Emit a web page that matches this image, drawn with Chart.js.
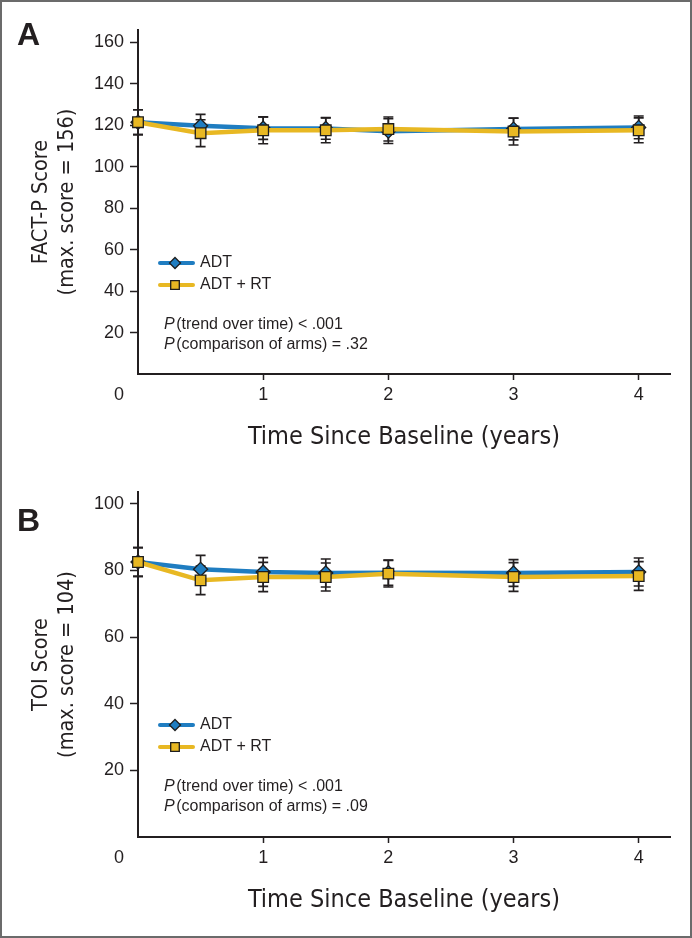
<!DOCTYPE html>
<html><head><meta charset="utf-8">
<script src="https://cdn.jsdelivr.net/npm/chart.js@4.4.1/dist/chart.umd.min.js"></script>
<style>
html,body{margin:0;padding:0;background:#fff;}
#wrap{position:relative;width:692px;height:938px;overflow:hidden;background:#fff;}
canvas{position:absolute;left:0;}
#cA{top:0;} #cB{top:463px;}
.panel{position:absolute;left:17px;font:bold 32px "Liberation Sans",Arial,sans-serif;line-height:32px;color:#231f20;}
#frame{position:absolute;left:0;top:0;width:692px;height:938px;box-sizing:border-box;border:2px solid #6b6b6b;pointer-events:none;}
</style></head><body>
<div id="wrap">
<canvas id="cA" width="692" height="462"></canvas>
<canvas id="cB" width="692" height="462"></canvas>
<div class="panel" style="top:18px">A</div>
<div class="panel" style="top:504px">B</div>
<div id="frame"></div>
</div>
<script>
// ---- data ----
const years = [0, 0.5, 1, 1.5, 2, 3, 4];
const xTickValues = [1, 2, 3, 4];
const seriesNames = ['ADT', 'ADT + RT'];

// Panel A: FACT-P score
const factpADT      = [121.5, 119.8, 118.6, 118.5, 117.2, 118.2, 119.0];
const factpADTRT    = [121.5, 116.2, 117.6, 117.6, 118.2, 117.0, 117.6];
const factpErrADT   = [6.0, 5.5, 5.4, 5.2, 6.0, 5.2, 5.5];
const factpErrADTRT = [6.0, 6.5, 6.5, 6.0, 5.8, 6.5, 6.0];
const factpTicks    = [20, 40, 60, 80, 100, 120, 140, 160];
const factpP        = ['(trend over time) < .001', '(comparison of arms) = .32'];

// Panel B: TOI score
const toiADT        = [82.5, 80.3, 79.5, 79.2, 79.3, 79.2, 79.5];
const toiADTRT      = [82.5, 77.0, 78.0, 78.0, 79.0, 78.0, 78.3];
const toiErrADT     = [4.3, 4.2, 4.3, 4.2, 3.8, 4.0, 4.2];
const toiErrADTRT   = [4.3, 4.3, 4.4, 4.2, 4.0, 4.3, 4.3];
const toiTicks      = [20, 40, 60, 80, 100];
const toiP          = ['(trend over time) < .001', '(comparison of arms) = .09'];

// ---- styles ----
const axisColor = '#231f20';
const blue = '#1f7dc1';
const yellow = '#e8b823';
const edge = '#1e1e1e';
const tickFont = '"Liberation Sans", Arial, Helvetica, sans-serif';
const narrowFont = '"Liberation Sans Narrow", "DejaVu Sans Condensed", "Roboto Condensed", sans-serif';

function drawMarker(ctx, style, x, y, r, fill) {
  ctx.beginPath();
  if (style === 'diamond') {
    ctx.moveTo(x, y - r); ctx.lineTo(x + r, y); ctx.lineTo(x, y + r); ctx.lineTo(x - r, y); ctx.closePath();
  } else {
    ctx.rect(x - r, y - r, 2 * r, 2 * r);
  }
  ctx.fillStyle = fill; ctx.fill();
  ctx.lineWidth = 1.3; ctx.strokeStyle = edge; ctx.stroke();
}

function makeChart(id, adt, adtrt, errAdt, errAdtrt, yMax, yTicks, yTitle, pTexts, topPad) {
  const errPlugin = {
    id: 'errbars',
    beforeDatasetsDraw(chart) {
      const {ctx, scales: {x, y}} = chart;
      ctx.save();
      ctx.strokeStyle = axisColor; ctx.lineWidth = 1.6;
      [[adt, errAdt], [adtrt, errAdtrt]].forEach(([vals, errs]) => {
        vals.forEach((v, i) => {
          const px = x.getPixelForValue(years[i]);
          const yt = y.getPixelForValue(v + errs[i]);
          const yb = y.getPixelForValue(v - errs[i]);
          ctx.beginPath();
          ctx.moveTo(px, yt); ctx.lineTo(px, yb);
          ctx.moveTo(px - 5, yt); ctx.lineTo(px + 5, yt);
          ctx.moveTo(px - 5, yb); ctx.lineTo(px + 5, yb);
          ctx.stroke();
        });
      });
      ctx.restore();
    }
  };
  const overlayPlugin = {
    id: 'overlay',
    afterDraw(chart) {
      const {ctx, chartArea: ca, scales: {x}} = chart;
      ctx.save();
      ctx.fillStyle = axisColor;
      // origin label "0"
      ctx.font = '18px ' + tickFont;
      ctx.textAlign = 'center'; ctx.textBaseline = 'middle';
      ctx.fillText('0', x.getPixelForValue(0) - 19, ca.bottom + 21);
      // legend
      const rows = [
        {name: seriesNames[0], color: blue, style: 'diamond', r: 5.5},
        {name: seriesNames[1], color: yellow, style: 'square', r: 4.3}
      ];
      rows.forEach((row, k) => {
        const yy = ca.top + 233 + k * 22;
        ctx.beginPath();
        ctx.strokeStyle = row.color; ctx.lineWidth = 4; ctx.lineCap = 'round';
        ctx.moveTo(ca.left + 22, yy); ctx.lineTo(ca.left + 55, yy); ctx.stroke();
        drawMarker(ctx, row.style, ca.left + 37, yy, row.r, row.color);
        ctx.fillStyle = axisColor;
        ctx.font = '16px ' + tickFont;
        ctx.textAlign = 'left'; ctx.textBaseline = 'middle';
        ctx.fillText(row.name, ca.left + 62, yy);
      });
      // P texts
      pTexts.forEach((t, k) => {
        const yy = ca.top + 295 + k * 20;
        const x0 = ca.left + 26;
        ctx.fillStyle = axisColor;
        ctx.textAlign = 'left'; ctx.textBaseline = 'middle';
        ctx.font = 'italic 16px ' + tickFont;
        ctx.fillText('P', x0, yy);
        const w = ctx.measureText('P').width;
        ctx.font = '16px ' + tickFont;
        ctx.fillText(t, x0 + w + 1.5, yy);
      });
      ctx.restore();
    }
  };
  return new Chart(document.getElementById(id), {
    type: 'line',
    data: {
      datasets: [
        {label: seriesNames[0], data: years.map((xv, i) => ({x: xv, y: adt[i]})),
         borderColor: blue, borderWidth: 4.5, pointStyle: 'rectRot', pointRadius: 7,
         pointBackgroundColor: blue, pointBorderColor: edge, pointBorderWidth: 1.3,
         order: 2, tension: 0, clip: false},
        {label: seriesNames[1], data: years.map((xv, i) => ({x: xv, y: adtrt[i]})),
         borderColor: yellow, borderWidth: 4.5, pointStyle: 'rect', pointRadius: 7.5,
         pointBackgroundColor: yellow, pointBorderColor: edge, pointBorderWidth: 1.3,
         order: 1, tension: 0, clip: false}
      ]
    },
    options: {
      responsive: false, animation: false, devicePixelRatio: 1,
      layout: {padding: {top: topPad, right: 22, bottom: 0, left: 0}},
      plugins: {legend: {display: false}, tooltip: {enabled: false}},
      scales: {
        x: {
          type: 'linear', min: 0, max: 4.25,
          afterBuildTicks: s => { s.ticks = xTickValues.map(v => ({value: v})); },
          afterFit: s => { s.height = 88; },
          grid: {display: true, drawOnChartArea: false, drawTicks: true, tickLength: 6, tickColor: axisColor, tickWidth: 1.5},
          border: {display: true, color: axisColor, width: 2},
          ticks: {color: axisColor, font: {family: tickFont, size: 18}, padding: 4, maxRotation: 0, autoSkip: false},
          title: {display: true, text: 'Time Since Baseline (years)', color: axisColor,
                  font: {family: narrowFont, size: 25, lineHeight: 1.2}, padding: {top: 0, bottom: 10}}
        },
        y: {
          min: 0, max: yMax,
          afterBuildTicks: s => { s.ticks = yTicks.map(v => ({value: v})); },
          afterFit: s => { s.width = 138; },
          grid: {display: true, drawOnChartArea: false, drawTicks: true, tickLength: 8, tickColor: axisColor, tickWidth: 1.5},
          border: {display: true, color: axisColor, width: 2},
          ticks: {color: axisColor, font: {family: tickFont, size: 18}, padding: 6, autoSkip: false},
          title: {display: true, text: yTitle, color: axisColor,
                  font: {family: narrowFont, size: 21.5, lineHeight: 1.2}, padding: {top: 29, bottom: 0}}
        }
      }
    },
    plugins: [errPlugin, overlayPlugin]
  });
}

makeChart('cA', factpADT, factpADTRT, factpErrADT, factpErrADTRT, 166, factpTicks,
          ['FACT-P Score', '(max. score = 156)'], factpP, 30);
makeChart('cB', toiADT, toiADTRT, toiErrADT, toiErrADTRT, 103.5, toiTicks,
          ['TOI Score', '(max. score = 104)'], toiP, 29);
</script>
</body></html>
